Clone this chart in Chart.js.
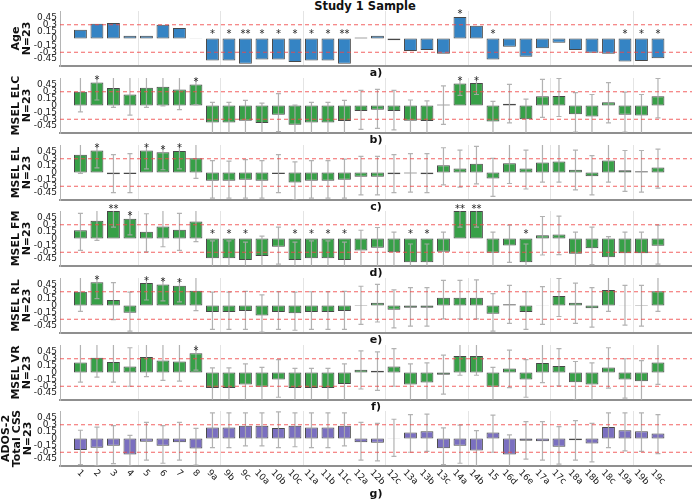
<!DOCTYPE html>
<html>
<head>
<meta charset="utf-8">
<script src="https://cdn.jsdelivr.net/npm/chart.js@4.4.1/dist/chart.umd.min.js"></script>
<style>
body { margin: 0; background: #fff; }
#wrap { position: relative; width: 692px; height: 503px; overflow: hidden; }
#wrap canvas { position: absolute; left: 0; }
#title { position: absolute; left: 265px; width: 200px; top: 0px; text-align: center;
         font: bold 11.5px "DejaVu Sans"; line-height: 12px; color: #111; }
</style>
</head>
<body>
<div id="wrap">
  <div id="title">Study 1 Sample</div>
</div>
<script>
const categories = ['1','2','3','4','5','6','7','8','9a','9b','9c','10a','10b','10c','11a','11b','11c',
  '12a','12b','12c','13a','13b','13c','14a','14b','15','16d','16e','17a','17c','18a','18b','18c','19a','19b','19c'];
const yTicks = [-0.45, -0.3, -0.15, 0, 0.15, 0.3, 0.45];
const refLine = 0.3;

// a) Age
const ageVals = [0.19,0.32,0.34,0.06,0.06,0.30,0.23,-0.005,-0.48,-0.48,-0.55,-0.46,-0.46,-0.51,-0.48,-0.48,-0.55,
  0.02,0.06,-0.04,-0.27,-0.25,-0.33,0.47,0.28,-0.46,-0.18,-0.40,-0.21,-0.09,-0.25,-0.31,-0.33,-0.50,-0.49,-0.43];
const ageSig = ['','','','','','','','','*','*','**','*','*','*','*','*','**',
  '','','','','','','*','','*','','','','','','','','*','*','*'];

// b) MSEL ELC
const elcVals = [0.30,0.50,0.38,0.24,0.39,0.41,0.35,0.46,-0.37,-0.37,-0.33,-0.38,-0.20,-0.42,-0.37,-0.37,-0.34,
  -0.12,-0.09,-0.12,-0.33,-0.34,0.02,0.48,0.49,-0.35,0.04,-0.30,0.20,0.21,-0.19,-0.24,0.07,-0.20,-0.22,0.20];
const elcLow = [-0.14,0.12,-0.04,-0.21,-0.04,-0.01,-0.09,0.02,-0.70,-0.70,-0.68,-0.72,-0.57,-0.75,-0.70,-0.70,-0.68,
  -0.52,-0.50,-0.53,-0.68,-0.70,-0.41,0.22,0.24,-0.70,-0.38,-0.65,-0.26,-0.24,-0.58,-0.62,-0.38,-0.58,-0.64,-0.27];
const elcHigh = [0.66,0.70,0.66,0.64,0.66,0.66,0.66,0.70,0.07,0.07,0.11,0.05,0.26,0.01,0.07,0.07,0.11,
  0.33,0.35,0.33,0.12,0.10,0.43,0.70,0.70,0.09,0.46,0.14,0.57,0.59,0.28,0.24,0.50,0.29,0.24,0.59];
const elcSig = ['','*','','','','','','*','','','','','','','','','',
  '','','','','','','*','*','','','','','','','','','','',''];

// c) MSEL EL
const elVals = [0.39,0.48,-0.04,-0.03,0.48,0.44,0.47,0.31,-0.18,-0.18,-0.16,-0.18,-0.03,-0.22,-0.18,-0.18,-0.16,
  -0.09,-0.09,-0.04,-0.02,-0.04,0.16,0.09,0.19,-0.13,0.20,0.09,0.22,0.24,0.06,-0.08,0.26,0.05,0.03,0.11];
const elLow = [-0.02,0.10,-0.44,-0.44,0.08,0.06,0.08,-0.13,-0.56,-0.56,-0.56,-0.56,-0.44,-0.59,-0.56,-0.56,-0.56,
  -0.49,-0.49,-0.44,-0.43,-0.44,-0.27,-0.32,-0.25,-0.52,-0.24,-0.36,-0.21,-0.21,-0.38,-0.49,-0.21,-0.41,-0.43,-0.34];
const elHigh = [0.66,0.70,0.39,0.41,0.70,0.68,0.70,0.66,0.26,0.25,0.28,0.26,0.39,0.23,0.26,0.26,0.29,
  0.35,0.35,0.39,0.41,0.41,0.54,0.49,0.57,0.31,0.62,0.49,0.62,0.62,0.49,0.37,0.62,0.48,0.48,0.51];
const elSig = ['','*','','','*','*','*','','','','','','','','','','',
  '','','','','','','','','','','','','','','','','','',''];

// d) MSEL FM
const fmVals = [0.18,0.39,0.60,0.43,0.15,0.26,0.19,0.37,-0.43,-0.43,-0.47,-0.38,-0.18,-0.47,-0.43,-0.43,-0.47,
  -0.26,-0.20,-0.30,-0.52,-0.52,-0.29,0.60,0.60,-0.31,-0.15,-0.52,0.07,0.09,-0.33,-0.21,-0.41,-0.32,-0.32,-0.16];
const fmLow = [-0.26,-0.04,0.25,0.08,-0.29,-0.18,-0.26,-0.07,-0.75,-0.75,-0.78,-0.72,-0.56,-0.78,-0.75,-0.75,-0.78,
  -0.66,-0.62,-0.70,-0.85,-0.85,-0.70,0.25,0.25,-0.72,-0.52,-0.85,-0.36,-0.35,-0.75,-0.57,-0.80,-0.72,-0.72,-0.56];
const fmHigh = [0.55,0.62,0.85,0.75,0.54,0.62,0.55,0.62,-0.05,-0.05,-0.08,0.05,0.25,-0.08,-0.05,-0.05,-0.08,
  0.18,0.24,0.14,-0.12,-0.12,0.14,0.85,0.85,0.14,0.29,-0.12,0.48,0.49,0.14,0.25,0.04,0.14,0.14,0.29];
const fmSig = ['','','**','*','','','','','*','*','*','','','*','*','*','*',
  '','','','*','*','','**','**','','','*','','','','','','','',''];

// e) MSEL RL
const rlVals = [0.30,0.51,0.12,-0.16,0.49,0.46,0.43,0.32,-0.14,-0.14,-0.12,-0.22,-0.14,-0.17,-0.14,-0.14,-0.12,
  0.01,0.06,-0.09,-0.05,-0.05,0.17,0.17,0.17,-0.18,0.03,-0.14,0.005,0.21,0.06,-0.06,0.34,0.005,-0.01,0.31];
const rlLow = [-0.13,0.15,-0.31,-0.56,0.12,0.10,0.08,-0.11,-0.52,-0.52,-0.52,-0.58,-0.52,-0.54,-0.52,-0.52,-0.52,
  -0.41,-0.36,-0.49,-0.45,-0.45,-0.29,-0.29,-0.29,-0.56,-0.39,-0.52,-0.41,-0.24,-0.39,-0.47,-0.13,-0.43,-0.45,-0.13];
const rlHigh = [0.62,0.75,0.50,0.29,0.75,0.72,0.70,0.62,0.29,0.29,0.31,0.23,0.30,0.29,0.30,0.30,0.31,
  0.42,0.46,0.34,0.39,0.39,0.55,0.55,0.56,0.26,0.44,0.30,0.41,0.59,0.49,0.39,0.62,0.44,0.44,0.62];
const rlSig = ['','*','','','*','*','*','','','','','','','','','','',
  '','','','','','','','','','','','','','','','','','',''];

// f) MSEL VR
const vrVals = [0.22,0.32,0.23,0.13,0.34,0.26,0.24,0.42,-0.34,-0.34,-0.26,-0.31,-0.15,-0.34,-0.34,-0.34,-0.25,
  0.06,0.04,0.13,-0.26,-0.22,-0.05,0.36,0.36,-0.31,0.09,-0.15,0.21,0.14,-0.21,-0.26,0.11,-0.15,-0.19,0.22];
const vrLow = [-0.21,-0.10,-0.21,-0.30,-0.09,-0.17,-0.19,0.05,-0.66,-0.66,-0.62,-0.66,-0.54,-0.68,-0.68,-0.68,-0.62,
  -0.36,-0.39,-0.30,-0.64,-0.62,-0.47,-0.06,-0.06,-0.66,-0.33,-0.54,-0.22,-0.29,-0.60,-0.64,-0.34,-0.56,-0.62,-0.26];
const vrHigh = [0.65,0.66,0.65,0.54,0.66,0.65,0.65,0.75,0.10,0.10,0.19,0.11,0.28,0.09,0.09,0.09,0.19,
  0.47,0.45,0.52,0.19,0.21,0.38,0.66,0.66,0.11,0.49,0.28,0.65,0.52,0.24,0.21,0.54,0.30,0.26,0.65];
const vrSig = ['','','','','','','','*','','','','','','','','','',
  '','','','','','','','','','','','','','','','','','',''];

// g) ADOS-2 Total CSS
const adosVals = [-0.25,-0.20,-0.16,-0.35,-0.07,-0.16,-0.08,-0.22,0.24,0.24,0.28,0.28,0.23,0.28,0.24,0.24,0.28,
  -0.08,-0.09,0.005,0.13,0.16,-0.21,-0.16,-0.26,0.13,-0.35,-0.05,-0.06,-0.18,-0.04,-0.11,0.25,0.18,0.16,0.11];
const adosLow = [-0.57,-0.59,-0.55,-0.60,-0.47,-0.54,-0.47,-0.58,-0.20,-0.20,-0.16,-0.16,-0.20,-0.18,-0.20,-0.20,-0.16,
  -0.47,-0.49,-0.39,-0.30,-0.28,-0.57,-0.54,-0.60,-0.30,-0.62,-0.45,-0.47,-0.56,-0.47,-0.51,-0.20,-0.27,-0.28,-0.33];
const adosHigh = [0.18,0.25,0.28,0.07,0.35,0.28,0.35,0.22,0.56,0.56,0.56,0.56,0.58,0.56,0.56,0.56,0.56,
  0.35,0.33,0.42,0.52,0.53,0.23,0.29,0.17,0.51,0.08,0.37,0.37,0.26,0.39,0.33,0.56,0.56,0.56,0.52];
const adosSig = categories.map(() => '');

const BLUE = '#3584c4', GREEN = '#37a047', PURPLE = '#7a6fc0';

const panels = [
  { title: ['Age', 'N=23'], letter: 'a)', vals: ageVals, low: null, high: null, sig: ageSig, color: BLUE },
  { title: ['MSEL ELC', 'N=23'], letter: 'b)', vals: elcVals, low: elcLow, high: elcHigh, sig: elcSig, color: GREEN },
  { title: ['MSEL EL', 'N=23'], letter: 'c)', vals: elVals, low: elLow, high: elHigh, sig: elSig, color: GREEN },
  { title: ['MSEL FM', 'N=23'], letter: 'd)', vals: fmVals, low: fmLow, high: fmHigh, sig: fmSig, color: GREEN },
  { title: ['MSEL RL', 'N=23'], letter: 'e)', vals: rlVals, low: rlLow, high: rlHigh, sig: rlSig, color: GREEN },
  { title: ['MSEL VR', 'N=23'], letter: 'f)', vals: vrVals, low: vrLow, high: vrHigh, sig: vrSig, color: GREEN },
  { title: ['ADOS-2', 'Total CSS', 'N=23'], letter: 'g)', vals: adosVals, low: adosLow, high: adosHigh, sig: adosSig, color: PURPLE, last: true }
];

Chart.defaults.font.family = 'DejaVu Sans';

// error bars, reference lines, significance stars, rotated category labels
const panelDecor = {
  id: 'panelDecor',
  afterDatasetsDraw(chart, args, o) {
    const ctx = chart.ctx, xs = chart.scales.x, ys = chart.scales.y, area = chart.chartArea;
    ctx.save();
    ctx.beginPath();
    ctx.rect(area.left, area.top, area.right - area.left, area.bottom - area.top);
    ctx.clip();
    if (o.low) {
      ctx.strokeStyle = 'rgba(170,170,170,0.9)';
      ctx.lineWidth = 1.2;
      o.vals.forEach((v, i) => {
        const xp = xs.getPixelForValue(i + 1);
        const yl = ys.getPixelForValue(o.low[i]), yh = ys.getPixelForValue(o.high[i]);
        ctx.beginPath();
        ctx.moveTo(xp, yl); ctx.lineTo(xp, yh);
        ctx.moveTo(xp - 2.5, yl); ctx.lineTo(xp + 2.5, yl);
        ctx.moveTo(xp - 2.5, yh); ctx.lineTo(xp + 2.5, yh);
        ctx.stroke();
      });
    }
    ctx.strokeStyle = 'rgba(240,70,70,0.85)';
    ctx.lineWidth = 1;
    ctx.setLineDash([4, 3]);
    [refLine, -refLine].forEach(r => {
      const yp = ys.getPixelForValue(r);
      ctx.beginPath();
      ctx.moveTo(area.left, yp); ctx.lineTo(area.right, yp);
      ctx.stroke();
    });
    ctx.restore();

    ctx.save();
    ctx.fillStyle = '#222';
    ctx.font = '10px "DejaVu Sans"';
    ctx.textAlign = 'center';
    ctx.textBaseline = 'alphabetic';
    o.sig.forEach((s, i) => {
      if (!s) return;
      const v = o.vals[i];
      const yv = v > 0 ? v + 0.12 : 0.17;
      ctx.fillText(s, xs.getPixelForValue(i + 1), ys.getPixelForValue(yv) + 6);
    });
    if (o.labels) {
      ctx.font = '9px "DejaVu Sans"';
      ctx.textBaseline = 'middle';
      categories.forEach((c, i) => {
        const w = ctx.measureText(c).width;
        const bh = (w + 6.5) * 0.7071;
        ctx.save();
        ctx.translate(xs.getPixelForValue(i + 1), area.bottom + 3 + bh / 2);
        ctx.rotate(Math.PI / 4);
        ctx.fillText(c, 0, 0);
        ctx.restore();
      });
    }
    ctx.restore();
  }
};

const wrap = document.getElementById('wrap');
const PAD_TOP = 14, AREA_H = 55;

panels.forEach((p, k) => {
  const xh = p.last ? 37 : 16;
  const cv = document.createElement('canvas');
  cv.width = 692;
  cv.height = PAD_TOP + AREA_H + xh;
  cv.style.top = (11.3 + 66.67 * k - PAD_TOP) + 'px';
  wrap.appendChild(cv);

  new Chart(cv, {
    type: 'bar',
    data: {
      datasets: [{
        data: p.vals.map((v, i) => ({ x: i + 1, y: v })),
        backgroundColor: p.color,
        borderColor: 'rgba(40,40,40,0.85)',
        borderWidth: 1,
        borderSkipped: false,
        barPercentage: 0.78,
        categoryPercentage: 1
      }]
    },
    options: {
      responsive: false,
      animation: false,
      layout: { padding: { top: PAD_TOP, left: 0, right: 0, bottom: 0 } },
      plugins: {
        legend: { display: false },
        tooltip: { enabled: false },
        panelDecor: { vals: p.vals, low: p.low, high: p.high, sig: p.sig, labels: !!p.last }
      },
      scales: {
        x: {
          type: 'linear', min: 0.293, max: 37.53,
          afterBuildTicks: s => { s.ticks = categories.map((c, i) => ({ value: i + 1 })); },
          ticks: { display: false },
          grid: {
            drawTicks: false,
            color: c => (c.tick && c.tick.value % 5 === 0) ? '#e4e4e4' : 'rgba(0,0,0,0)'
          },
          border: { color: '#8f8f8f', width: 2 },
          title: {
            display: true, text: p.letter, color: '#111',
            font: { size: 11, weight: 'bold' },
            padding: { top: 0, bottom: p.last ? 2.5 : 2.1 }
          },
          afterFit: s => { s.height = xh; }
        },
        y: {
          min: -0.6, max: 0.6,
          afterBuildTicks: s => { s.ticks = yTicks.map(v => ({ value: v })); },
          ticks: {
            autoSkip: false, padding: 3, color: '#222',
            font: { size: 9 },
            callback: v => String(Math.round(v * 100) / 100)
          },
          grid: { display: false, drawTicks: false },
          border: { color: '#b5b5b5', width: 1 },
          title: {
            display: true, text: p.title, color: '#111',
            font: { size: 11, weight: 'bold', lineHeight: 1 },
            padding: { top: p.title.length > 2 ? 0.5 : 10.5, bottom: 0 }
          },
          afterFit: s => { s.width = 60; }
        }
      }
    },
    plugins: [panelDecor]
  });
});
</script>
</body>
</html>
